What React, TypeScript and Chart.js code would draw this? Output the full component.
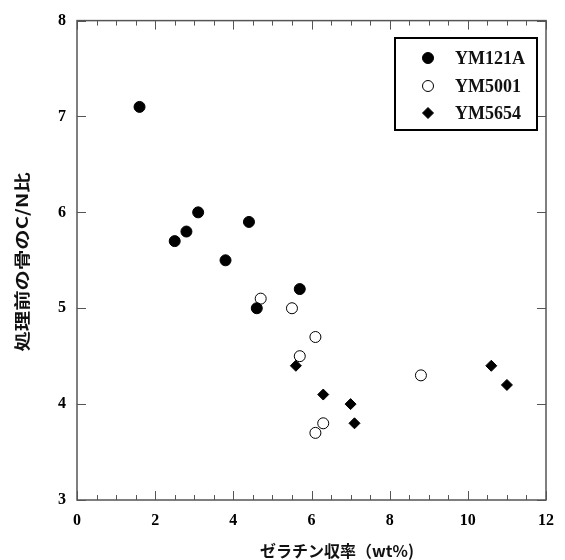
import React, { useEffect, useRef } from "react";
import { Chart, registerables } from "chart.js";

Chart.register(...registerables);

const seriesNames = ["YM121A", "YM5001", "YM5654"];
const ym121aX = [1.6, 2.5, 2.8, 3.1, 3.8, 4.4, 4.6, 5.7];
const ym121aY = [7.1, 5.7, 5.8, 6.0, 5.5, 5.9, 5.0, 5.2];
const ym5001X = [4.7, 5.5, 6.1, 5.7, 8.8, 6.3, 6.1];
const ym5001Y = [5.1, 5.0, 4.7, 4.5, 4.3, 3.8, 3.7];
const ym5654X = [5.6, 6.3, 7.0, 7.1, 10.6, 11.0];
const ym5654Y = [4.4, 4.1, 4.0, 3.8, 4.4, 4.2];
const xTitle = "ゼラチン収率（wt%)";
const yTitle = "処理前の骨のC/N比";

const pts = (xs: number[], ys: number[]) => xs.map((x, i) => ({ x, y: ys[i] }));

const decorPlugin = {
  id: "decor",
  afterDraw(chart: any) {
    const ctx = chart.ctx as CanvasRenderingContext2D;
    const { left, right, top, bottom } = chart.chartArea;
    const xs = chart.scales.x;
    const ys = chart.scales.y;
    ctx.save();
    // frame
    ctx.strokeStyle = "#555";
    ctx.lineWidth = 1.5;
    ctx.strokeRect(left, top, right - left, bottom - top);
    // ticks
    ctx.lineWidth = 1;
    ctx.beginPath();
    for (let v = 0; v <= 12.001; v += 0.5) {
      const px = Math.round(xs.getPixelForValue(v)) + 0.5;
      const len = Math.abs(v / 2 - Math.round(v / 2)) < 1e-6 ? 9 : 5;
      ctx.moveTo(px, bottom);
      ctx.lineTo(px, bottom - len);
      ctx.moveTo(px, top);
      ctx.lineTo(px, top + len);
    }
    for (let v = 3; v <= 8; v += 1) {
      const py = Math.round(ys.getPixelForValue(v)) + 0.5;
      ctx.moveTo(left, py);
      ctx.lineTo(left + 9, py);
      ctx.moveTo(right, py);
      ctx.lineTo(right - 9, py);
    }
    ctx.stroke();

    // titles
    ctx.fillStyle = "#111";
    ctx.font = "bold 16px 'Noto Sans CJK JP'";
    ctx.textAlign = "center";
    ctx.textBaseline = "middle";
    ctx.fillText(xTitle, 337, 551);

    ctx.save();
    ctx.translate(22, 262);
    ctx.rotate(-Math.PI / 2);
    const w = ctx.measureText(yTitle).width;
    ctx.scale(179 / w, 1);
    ctx.fillText(yTitle, 0, 0);
    ctx.restore();

    // legend
    const bx = 395, by = 38, bw = 142, bh = 92;
    ctx.fillStyle = "#fff";
    ctx.fillRect(bx, by, bw, bh);
    ctx.strokeStyle = "#000";
    ctx.lineWidth = 2;
    ctx.strokeRect(bx, by, bw, bh);
    const rowY = [58, 86, 113];
    chart.data.datasets.forEach((ds: any, i: number) => {
      const mx = 428, my = rowY[i];
      ctx.beginPath();
      ctx.lineWidth = 1;
      ctx.strokeStyle = "#000";
      ctx.fillStyle = ds.backgroundColor;
      if (ds.pointStyle === "rectRot") {
        const r = 5.5;
        ctx.moveTo(mx - r, my);
        ctx.lineTo(mx, my - r);
        ctx.lineTo(mx + r, my);
        ctx.lineTo(mx, my + r);
        ctx.closePath();
      } else {
        ctx.arc(mx, my, 5.5, 0, Math.PI * 2);
      }
      ctx.fill();
      ctx.stroke();
      ctx.fillStyle = "#111";
      ctx.font = "bold 18px 'Liberation Serif'";
      ctx.textAlign = "left";
      ctx.textBaseline = "middle";
      ctx.fillText(ds.label, 455, my + 1);
    });
    ctx.restore();
  },
};

export default function App() {
  const ref = useRef<HTMLCanvasElement>(null);
  useEffect(() => {
    document.body.style.margin = "0";
    const chart = new Chart(ref.current!, {
      type: "scatter",
      data: {
        datasets: [
          {
            label: seriesNames[0],
            data: pts(ym121aX, ym121aY),
            pointStyle: "circle",
            pointRadius: 5.5,
            backgroundColor: "#000",
            borderColor: "#000",
            borderWidth: 1,
          },
          {
            label: seriesNames[1],
            data: pts(ym5001X, ym5001Y),
            pointStyle: "circle",
            pointRadius: 5.5,
            backgroundColor: "#fff",
            borderColor: "#000",
            borderWidth: 1,
          },
          {
            label: seriesNames[2],
            data: pts(ym5654X, ym5654Y),
            pointStyle: "rectRot",
            pointRadius: 5.5,
            backgroundColor: "#000",
            borderColor: "#000",
            borderWidth: 1,
          },
        ],
      },
      options: {
        animation: false,
        responsive: false,
        layout: { padding: { top: 20, right: 7, left: 0, bottom: 0 } },
        plugins: { legend: { display: false }, tooltip: { enabled: false } },
        scales: {
          x: {
            type: "linear",
            min: 0,
            max: 12,
            grid: { display: false, drawTicks: false },
            border: { display: false },
            ticks: {
              stepSize: 2,
              padding: 11,
              color: "#000",
              font: { family: "'Liberation Serif'", size: 16, weight: "bold" },
            },
            afterFit: (s: any) => {
              s.height = 60;
            },
          },
          y: {
            type: "linear",
            min: 3,
            max: 8,
            grid: { display: false, drawTicks: false },
            border: { display: false },
            ticks: {
              stepSize: 1,
              padding: 11,
              color: "#000",
              font: { family: "'Liberation Serif'", size: 16, weight: "bold" },
            },
            afterFit: (s: any) => {
              s.width = 77;
            },
          },
        },
      },
      plugins: [decorPlugin],
    });
    return () => chart.destroy();
  }, []);
  return (
    <div style={{ position: "absolute", left: 0, top: 0, width: 565, height: 560, background: "#fff" }}>
      <canvas ref={ref} width={565} height={560} />
    </div>
  );
}
